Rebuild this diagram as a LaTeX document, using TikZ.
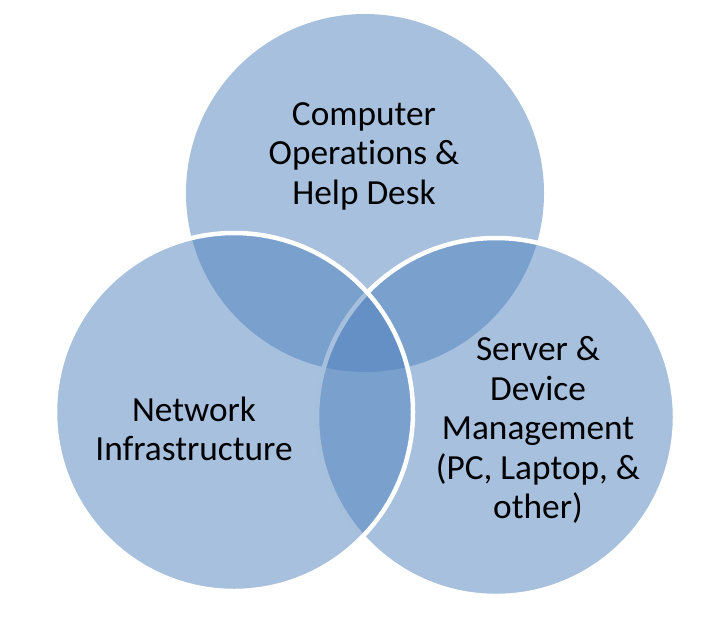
\documentclass[tikz,border=0pt]{standalone}
\usepackage{fontspec}
\setmainfont{Carlito}[Ligatures={NoCommon,NoRequired,NoContextual}]
\definecolor{vennblue}{HTML}{4F81BD}
\tikzset{
  vennfill/.style={circle, minimum size=358pt, inner sep=0pt, fill=vennblue, fill opacity=0.5},
  vennedge/.style={draw=white, line width=4.5pt, draw opacity=1},
  lbl/.style={align=center, text=black, inner sep=0pt, font=\fontsize{35.3}{39.5}\selectfont}
}
\begin{document}
\begin{tikzpicture}[x=1pt,y=-1pt]
  \useasboundingbox (0,0) rectangle (708,622);
  \node[vennfill] (ctop) at (365,193) {};
  \node[vennfill, vennedge] (cright) at (496,417) {};
  \node[vennfill, vennedge] (cleft) at (234,412) {};
  \node[lbl] (ltop) at (364,157) {\strut Computer\\\strut Operations \&\\\strut Help Desk};
  \node[lbl] (lleft) at (194,433) {\strut Network\\\strut Infrastructure};
  \node[lbl] (lright) at (538,432) {\strut Server \&\\\strut Device\\\strut Management\\\strut (PC, Laptop, \&\\\strut other)};
\end{tikzpicture}
\end{document}
